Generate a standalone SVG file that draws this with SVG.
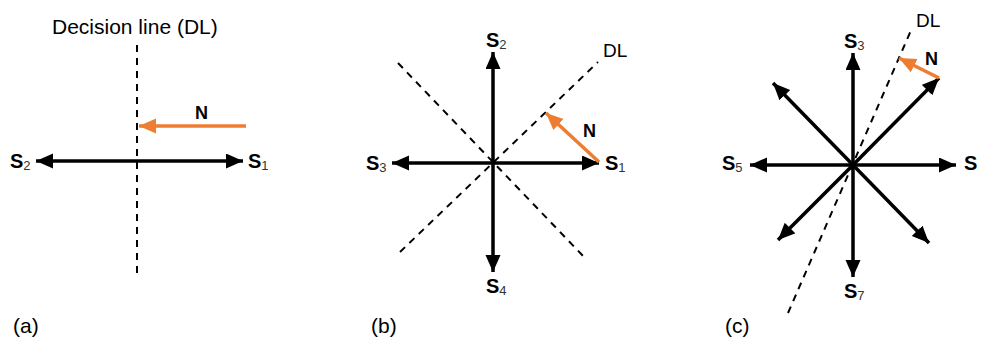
<svg xmlns="http://www.w3.org/2000/svg" width="981" height="341" viewBox="0 0 981 341">
<style>
.ax{stroke:#000;stroke-width:3.5;fill:none;marker-start:url(#ah);marker-end:url(#ah)}
.ax1{stroke:#000;stroke-width:3.5;fill:none;marker-end:url(#ah)}
.dl{stroke:#000;stroke-width:2;fill:none;stroke-dasharray:7,6}
.n{stroke:#ED7D31;stroke-width:3.5;fill:none;marker-end:url(#oh)}
.lbl{font-family:"Liberation Sans",Arial,sans-serif;font-size:20px;font-weight:bold;fill:#000}
.sub{font-size:13px;font-weight:normal;fill:#333}
.t{font-family:"Liberation Sans",Arial,sans-serif;font-size:21px;fill:#000}
.d{font-family:"Liberation Sans",Arial,sans-serif;font-size:19px;fill:#000}
.nl{font-family:"Liberation Sans",Arial,sans-serif;font-size:18px;font-weight:bold;fill:#000}
</style>
<defs>
<marker id="ah" markerUnits="userSpaceOnUse" markerWidth="18" markerHeight="16" refX="17" refY="7.5" orient="auto-start-reverse" viewBox="0 0 18 16">
<path d="M0,0 L17,7.5 L0,15 z" fill="#000"/>
</marker>
<marker id="oh" markerUnits="userSpaceOnUse" markerWidth="18" markerHeight="16" refX="17" refY="7.5" orient="auto" viewBox="0 0 18 16">
<path d="M0,0 L17,7.5 L0,15 z" fill="#ED7D31"/>
</marker>
</defs>
<g id="connectors">
<line class="dl" x1="137" y1="45" x2="137" y2="278"/>
<line class="ax" x1="36" y1="161" x2="243" y2="161"/>
<line class="n" x1="246" y1="126" x2="139" y2="126"/>
<line class="dl" x1="398" y1="63" x2="585" y2="258"/>
<line class="dl" x1="400" y1="252" x2="598" y2="62"/>
<line class="ax" x1="392" y1="163" x2="599" y2="163"/>
<line class="ax" x1="493" y1="52" x2="493" y2="272"/>
<line class="n" x1="599" y1="162" x2="546" y2="113"/>
<line class="dl" x1="788" y1="313" x2="912" y2="28"/>
<line class="ax" x1="750" y1="165" x2="956" y2="165"/>
<line class="ax" x1="853" y1="53" x2="853" y2="277"/>
<line class="ax1" x1="853" y1="165" x2="939" y2="78"/>
<line class="ax1" x1="853" y1="165" x2="773" y2="83"/>
<line class="ax1" x1="853" y1="165" x2="778" y2="240"/>
<line class="ax1" x1="853" y1="165" x2="929" y2="243"/>
<line class="n" x1="939" y1="78" x2="899" y2="58"/>
</g>
<g id="panel-a">
<text class="t" x="52" y="34">Decision line (DL)</text>
<text class="lbl" x="10" y="168">S<tspan class="sub" dy="2">2</tspan></text>
<text class="lbl" x="248" y="168">S<tspan class="sub" dy="2">1</tspan></text>
<text class="nl" x="195" y="119">N</text>
<text class="t" x="13" y="333">(a)</text>
</g>
<g id="panel-b">
<text class="lbl" x="486" y="47">S<tspan class="sub" dy="2">2</tspan></text>
<text class="lbl" x="486" y="293">S<tspan class="sub" dy="2">4</tspan></text>
<text class="lbl" x="366" y="170">S<tspan class="sub" dy="2">3</tspan></text>
<text class="lbl" x="605" y="170">S<tspan class="sub" dy="2">1</tspan></text>
<text class="d" x="603" y="57">DL</text>
<text class="nl" x="583" y="137">N</text>
<text class="t" x="371" y="333">(b)</text>
</g>
<g id="panel-c">
<text class="lbl" x="844" y="48">S<tspan class="sub" dy="2">3</tspan></text>
<text class="lbl" x="844" y="298">S<tspan class="sub" dy="2">7</tspan></text>
<text class="lbl" x="722" y="170">S<tspan class="sub" dy="2">5</tspan></text>
<text class="lbl" x="964" y="170">S</text>
<text class="d" x="916" y="27">DL</text>
<text class="nl" x="925" y="65">N</text>
<text class="t" x="725" y="333">(c)</text>
</g>
</svg>
